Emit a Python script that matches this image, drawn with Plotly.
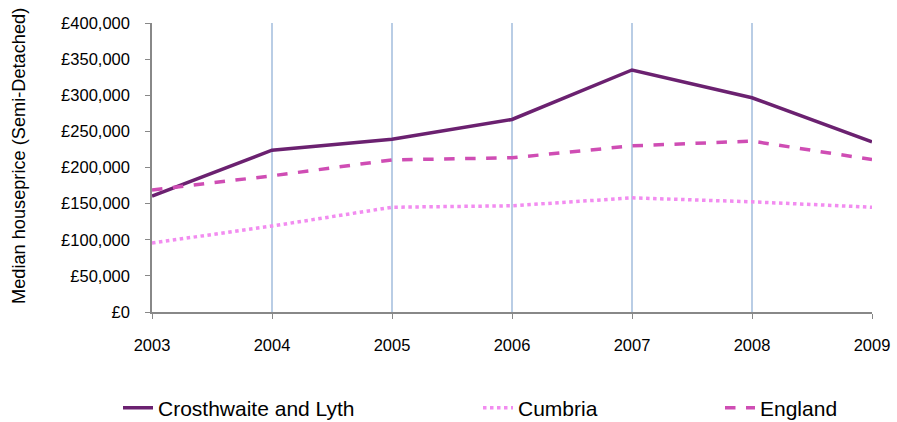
import plotly.graph_objects as go

years = [2003, 2004, 2005, 2006, 2007, 2008, 2009]
crosthwaite = [160500, 224000, 239000, 266500, 335000, 296500, 235500]
cumbria = [95500, 119000, 145000, 147000, 158000, 152500, 145000]
england = [169000, 188500, 210500, 213500, 230000, 236500, 211000]
ytick_vals = [0, 50000, 100000, 150000, 200000, 250000, 300000, 350000, 400000]
ytick_text = ["£0", "£50,000", "£100,000", "£150,000", "£200,000", "£250,000",
              "£300,000", "£350,000", "£400,000"]

fig = go.Figure()
fig.add_trace(go.Scatter(x=years, y=crosthwaite, mode="lines", name="Crosthwaite and Lyth",
                         line=dict(color="#6B2170", width=3.5), legend="legend"))
fig.add_trace(go.Scatter(x=years, y=cumbria, mode="lines", name="Cumbria",
                         line=dict(color="#F28CF0", width=3.5, dash="dot"), legend="legend2"))
fig.add_trace(go.Scatter(x=years, y=england, mode="lines", name="England",
                         line=dict(color="#CF4DB4", width=3.5, dash="dash"), legend="legend3"))

def leg(xpix):
    return dict(orientation="h", xref="container", yref="container",
                x=xpix / 897, xanchor="left",
                y=(422 - 408) / 422, yanchor="middle", font=dict(size=21),
                bgcolor="rgba(0,0,0,0)")

fig.add_annotation(text="Median houseprice (Semi-Detached)", textangle=-90,
                   xref="paper", yref="paper", x=(19 - 152) / 720, y=(312 - 156) / 289,
                   xanchor="center", yanchor="middle", showarrow=False,
                   font=dict(size=18.2))

fig.update_layout(
    width=897, height=422,
    margin=dict(l=152, r=25, t=23, b=110),
    plot_bgcolor="white", paper_bgcolor="white",
    font=dict(family="Liberation Sans, Arial, sans-serif", size=16.5, color="#000000"),
    showlegend=True,
    legend=leg(118),
    legend2=leg(478),
    legend3=leg(720),
    xaxis=dict(range=[2003, 2009], tickmode="array", tickvals=years,
               ticktext=[str(y) for y in years],
               showgrid=True, gridcolor="#B9CDE5", gridwidth=1.5,
               showline=True, linecolor="#888888", linewidth=1.5,
               ticks="outside", ticklen=5, tickcolor="#888888", zeroline=False,
               ticklabelstandoff=12, automargin=False),
    yaxis=dict(range=[0, 400000], tickmode="array", tickvals=ytick_vals, ticktext=ytick_text,
               showgrid=False, showline=True, linecolor="#888888", linewidth=1.5,
               ticks="outside", ticklen=5, tickcolor="#888888", zeroline=False,
               ticklabelstandoff=12, automargin=False),
)
fig.write_html("out.html", post_script="document.body.style.margin='0';",
               config={"displayModeBar": False})
